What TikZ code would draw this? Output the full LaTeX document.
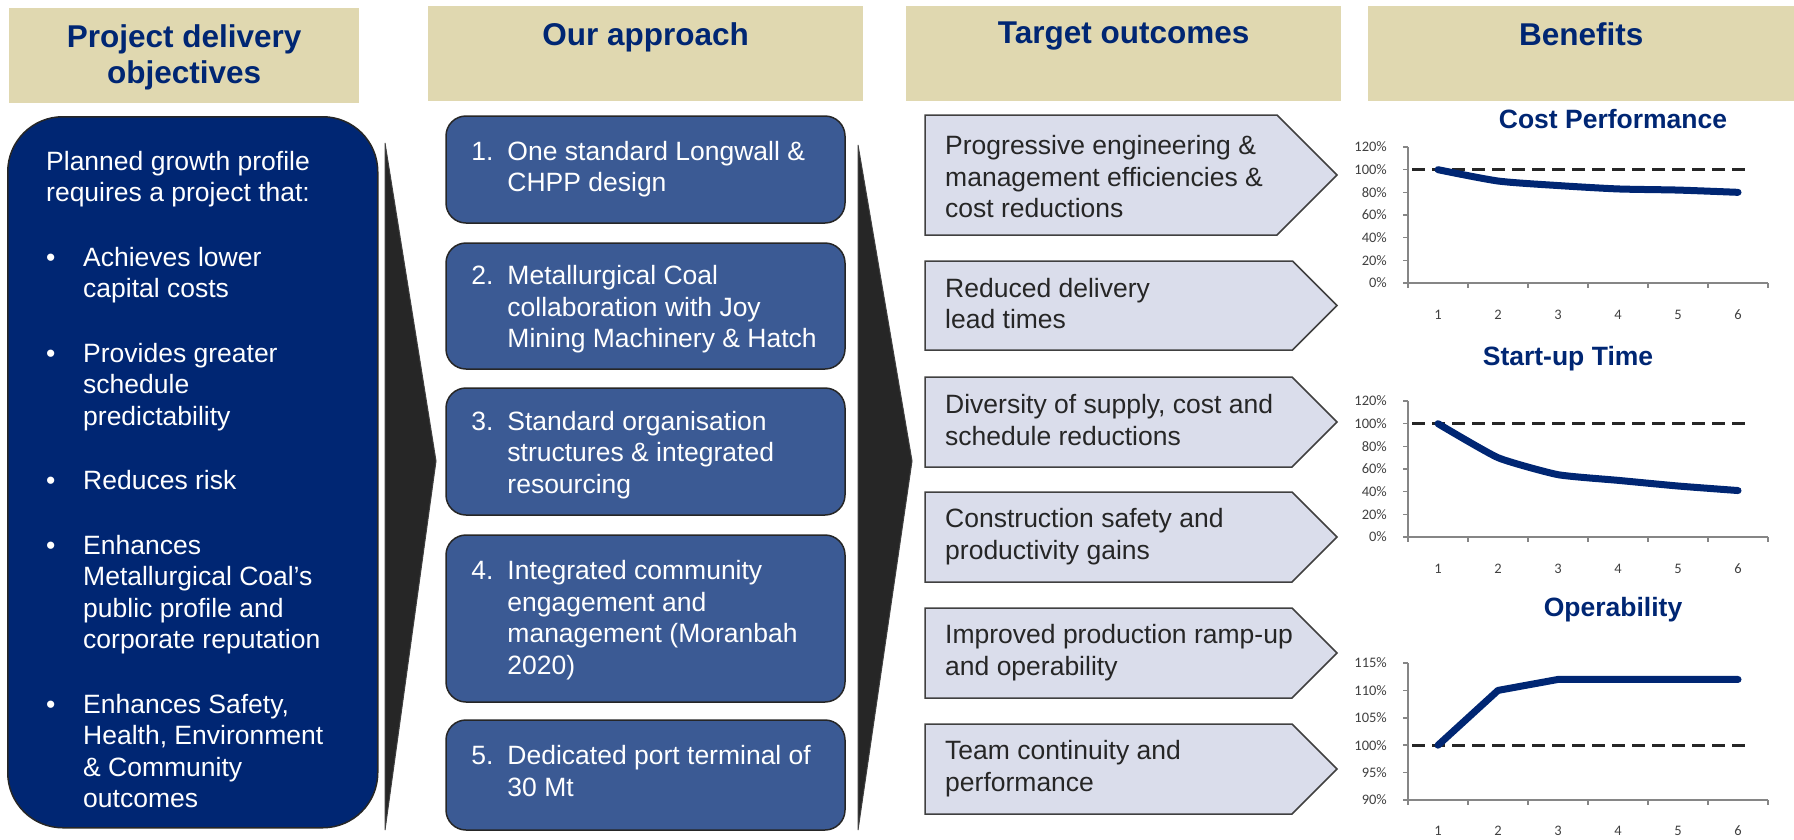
\documentclass[tikz,border=0pt]{standalone}
\usepackage{fontspec}
\setmainfont{Liberation Sans}
\newfontfamily\chartfont{Carlito}
\definecolor{HeadBeige}{RGB}{224,216,176}
\definecolor{DarkNavy}{RGB}{0,38,115}
\definecolor{ApproachBlue}{RGB}{59,90,148}
\definecolor{OutcomeGrey}{RGB}{218,221,235}
\definecolor{EdgeGrey}{RGB}{64,64,64}
\definecolor{WedgeBlack}{RGB}{38,38,38}
\definecolor{AxisGrey}{RGB}{134,134,134}
\newcommand{\objbullet}{\makebox[37pt][l]{\textbullet}}
\newcommand{\appnum}[1]{\makebox[36pt][l]{#1}}
\tikzset{
  header/.style={fill=HeadBeige, minimum height=95pt, inner sep=0pt, anchor=north west},
  headtext/.style={text=DarkNavy, font=\bfseries\fontsize{31.5}{36}\selectfont, align=center, anchor=north, inner sep=0pt},
  bodytext/.style={font=\fontsize{26.5}{31.5}\selectfont, inner sep=0pt},
  objbox/.style={fill=DarkNavy, draw=WedgeBlack, line width=1.5pt, rounded corners=55pt, anchor=north west},
  appbox/.style={fill=ApproachBlue, draw=WedgeBlack, line width=1.5pt, rounded corners=20pt, minimum width=399pt, inner sep=0pt},
  outbox/.style={fill=OutcomeGrey, draw=EdgeGrey, line width=1.5pt},
  wedge/.style={fill=WedgeBlack, draw=EdgeGrey, line width=1pt},
  axis/.style={draw=AxisGrey, line width=1.5pt},
  ticklabel/.style={font=\chartfont\fontsize{14.5}{16}\selectfont, text=EdgeGrey, inner sep=1pt},
  charttitle/.style={text=DarkNavy, font=\bfseries\fontsize{26.5}{30}\selectfont, anchor=base},
  trend/.style={draw=DarkNavy, line width=7pt, line cap=round, line join=round},
  baseline100/.style={draw=WedgeBlack, line width=3pt, dash pattern=on 13pt off 7pt},
}

\begin{document}
\begin{tikzpicture}[x=1pt,y=-1pt]
\useasboundingbox (0,0) rectangle (1794,839);

% column headers
\node[header, minimum width=350pt] (hObj) at (9,8) {};
\node[header, minimum width=435pt] (hApp) at (428,6) {};
\node[header, minimum width=435pt] (hOut) at (906,6) {};
\node[header, minimum width=426pt] (hBen) at (1368,6) {};
\node[headtext] (hObjT) at ([yshift=-16pt]hObj.north) {Project delivery\\objectives};
\node[headtext] (hAppT) at ([yshift=-16pt]hApp.north) {Our approach};
\node[headtext] (hOutT) at ([yshift=-16pt]hOut.north) {Target outcomes};
\node[headtext] (hBenT) at ([yshift=-16pt]hBen.north) {Benefits};

% objectives
\node[objbox, minimum width=370pt, minimum height=711pt] (objBox) at (7,116) {};
\node[bodytext, text=white, anchor=north west] (objText) at (46,148) {%
\begin{tabular}{@{}l@{}l@{}}
\multicolumn{2}{@{}l@{}}{Planned growth profile}\\
\multicolumn{2}{@{}l@{}}{requires a project that:}\\[33pt]
\objbullet & Achieves lower\\
 & capital costs\\[33pt]
\objbullet & Provides greater\\
 & schedule\\
 & predictability\\[33pt]
\objbullet & Reduces risk\\[33pt]
\objbullet & Enhances\\
 & Metallurgical Coal’s\\
 & public profile and\\
 & corporate reputation\\[33pt]
\objbullet & Enhances Safety,\\
 & Health, Environment\\
 & \& Community\\
 & outcomes
\end{tabular}};

% dividers
\coordinate (w1top) at (385,143);
\coordinate (w1tip) at (436,461);
\coordinate (w1bot) at (385,830);
\coordinate (w2top) at (858,145);
\coordinate (w2tip) at (912,461);
\coordinate (w2bot) at (858,830);
\draw[wedge] (w1top) -- (w1tip) -- (w1bot) -- cycle;
\draw[wedge] (w2top) -- (w2tip) -- (w2bot) -- cycle;

% approach
\foreach \nm/\yt/\yb/\dy/\txt in {
  app1/116/223/0/{\appnum{1.}&One standard Longwall \&\\&CHPP design},
  app2/243/369/4/{\appnum{2.}&Metallurgical Coal\\&collaboration with Joy\\&Mining Machinery \& Hatch},
  app3/388/515/4/{\appnum{3.}&Standard organisation\\&structures \& integrated\\&resourcing},
  app4/535/702/2/{\appnum{4.}&Integrated community\\&engagement and\\&management (Moranbah\\&2020)},
  app5/720/830/-1/{\appnum{5.}&Dedicated port terminal of\\&30 Mt}}
{
  \node[appbox, minimum height={\yb-\yt}] (\nm) at (645.5,{(\yt+\yb)/2}) {};
  \node[bodytext, text=white, anchor=west] (\nm-t) at ([xshift=26pt,yshift=-\dy pt]\nm.west) {\begin{tabular}{@{}l@{}l@{}}\txt\end{tabular}};
}

% outcomes
\foreach \nm/\yt/\yb/\dy/\txt in {
  out1/115/235/5/{Progressive engineering \&\\management efficiencies \&\\cost reductions},
  out2/261/350/1/{Reduced delivery\\lead times},
  out3/377/467/1/{Diversity of supply, cost and\\schedule reductions},
  out4/492/582/0/{Construction safety and\\productivity gains},
  out5/608/698/0/{Improved production ramp-up\\and operability},
  out6/724/814/0/{Team continuity and\\performance}}
{
  \draw[outbox] (925,\yt) -- ({1337-(\yb-\yt)/2},\yt) -- (1337,{(\yt+\yb)/2}) -- ({1337-(\yb-\yt)/2},\yb) -- (925,\yb) -- cycle;
  \node[bodytext, text=WedgeBlack, anchor=west] (\nm) at (945,{(\yt+\yb)/2+\dy}) {\begin{tabular}{@{}l@{}}\txt\end{tabular}};
}

% benefits
\node[charttitle] (costT) at (1613,128) {Cost Performance};
\begin{scope}[shift={(1408,283)}, y=1.1333pt]
\draw[axis] (0,120) -- (0,0) -- (360,0);
\foreach \v in {0,20,...,120} {
  \draw[axis] (0,\v) -- ++(-5pt,0pt);
  \node[ticklabel, anchor=east] (costY\v) at (-20,\v) {\v\%};
}
\foreach \i in {0,...,6} \draw[axis] (60*\i,0) -- ++(0pt,-5pt);
\foreach \i in {1,...,6} \node[ticklabel, yshift=-32pt] (costX\i) at (60*\i-30,0) {\i};
\draw[baseline100] (4,100) -- (343,100);
\draw[trend] plot[smooth, tension=.4] coordinates {(30,100) (90,90) (150,86) (210,83) (270,82) (330,80)};
\end{scope}

\node[charttitle] (startT) at (1568,365) {Start-up Time};
\begin{scope}[shift={(1408,537)}, y=1.1333pt]
\draw[axis] (0,120) -- (0,0) -- (360,0);
\foreach \v in {0,20,...,120} {
  \draw[axis] (0,\v) -- ++(-5pt,0pt);
  \node[ticklabel, anchor=east] (startY\v) at (-20,\v) {\v\%};
}
\foreach \i in {0,...,6} \draw[axis] (60*\i,0) -- ++(0pt,-5pt);
\foreach \i in {1,...,6} \node[ticklabel, yshift=-32pt] (startX\i) at (60*\i-30,0) {\i};
\draw[baseline100] (4,100) -- (343,100);
\draw[trend] plot[smooth, tension=.3] coordinates {(30,100) (90,70) (150,55) (210,50) (270,45) (330,41)};
\end{scope}

\node[charttitle] (opT) at (1613,616) {Operability};
\begin{scope}[shift={(1408,800)}, y=5.48pt]
\draw[axis] (0,25) -- (0,0) -- (360,0);
\foreach \v in {90,95,...,115} {
  \draw[axis] (0,\v-90) -- ++(-5pt,0pt);
  \node[ticklabel, anchor=east] (opY\v) at (-20,\v-90) {\v\%};
}
\foreach \i in {0,...,6} \draw[axis] (60*\i,0) -- ++(0pt,-5pt);
\foreach \i in {1,...,6} \node[ticklabel, yshift=-31pt] (opX\i) at (60*\i-30,0) {\i};
\draw[baseline100] (4,10) -- (343,10);
\draw[trend] (30,10) -- (90,20) -- (150,22) -- (210,22) -- (270,22) -- (330,22);
\end{scope}
\end{tikzpicture}
\end{document}
